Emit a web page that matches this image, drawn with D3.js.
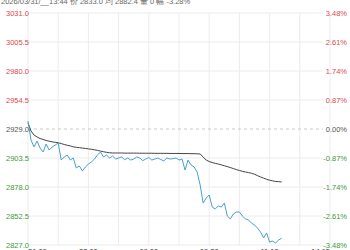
<!DOCTYPE html>
<html>
<head>
<meta charset="utf-8">
<script src="https://cdn.jsdelivr.net/npm/d3@7"></script>
<style>
  body { margin: 0; background: #fff; }
  svg { display: block; font-family: "Liberation Sans", Arial, sans-serif; }
</style>
</head>
<body>
<svg width="350" height="250"></svg>
<script>
// header line (cut off at top in the original)
var headerText = "2026/03/31/__13:44  价 2833.0  均 2882.4  量 0  幅 -3.28%";

// price axis
var baseValue = 2929.0;
var priceTicks = [3031.0, 3005.5, 2980.0, 2954.5, 2929.0, 2903.5, 2878.0, 2852.5, 2827.0];
var pctTicks = ["3.48%", "2.61%", "1.74%", "0.87%", "0.00%", "-0.87%", "-1.74%", "-2.61%", "-3.48%"];

// time axis (minutes from open), one label every 60
var timeLabels = ["21:00", "23:00", "09:00", "09:30", "11:15", "14:15"];
var totalMinutes = 300;
var stepMinutes = 3;

// last price, one point every 3 minutes
var price = [
  2936.0, 2919.3, 2913.2, 2918.4, 2912.3, 2908.8, 2915.8, 2910.5, 2913.2, 2914.9,
  2916.7, 2901.7, 2904.4, 2906.1, 2901.7, 2903.5, 2894.7, 2896.5, 2892.1, 2895.6,
  2898.2, 2900.0, 2902.6, 2906.1, 2908.8, 2904.4, 2906.1, 2903.5, 2905.2, 2902.6,
  2903.5, 2904.4, 2902.0, 2903.5, 2901.7, 2902.6, 2904.4, 2903.5, 2901.2, 2902.6,
  2903.9, 2901.7, 2902.6, 2903.5, 2902.1, 2901.0, 2903.5, 2902.6, 2902.9, 2903.5,
  2901.7, 2902.6, 2892.9, 2901.7, 2897.3, 2895.6, 2891.2, 2879.8, 2863.9, 2868.3,
  2871.0, 2860.4, 2858.7, 2861.3, 2860.4, 2863.9, 2852.5, 2849.9, 2854.3, 2856.0,
  2856.0, 2852.5, 2849.9, 2849.0, 2846.3, 2844.6, 2841.9, 2838.4, 2833.2, 2837.6,
  2829.6, 2830.5, 2828.8, 2831.4, 2833.0
];

// average price
var avgPrice = [
  2934.3, 2927.2, 2923.7, 2922.0, 2920.6, 2919.8, 2918.9, 2918.3, 2917.7, 2917.3,
  2916.9, 2916.2, 2915.4, 2914.7, 2914.1, 2913.3, 2912.9, 2912.6, 2912.2, 2911.9,
  2911.5, 2911.2, 2910.7, 2910.2, 2909.6, 2909.0, 2908.5, 2908.1, 2907.9, 2907.9,
  2907.9, 2907.9, 2907.8, 2907.8, 2907.8, 2907.8, 2907.8, 2907.7, 2907.7, 2907.7,
  2907.7, 2907.7, 2907.6, 2907.6, 2907.6, 2907.6, 2907.6, 2907.5, 2907.5, 2907.5,
  2907.5, 2907.4, 2907.4, 2907.4, 2907.3, 2907.3, 2907.2, 2907.0, 2904.4, 2901.7,
  2900.4, 2899.5, 2898.8, 2898.2, 2897.5, 2896.7, 2895.9, 2895.1, 2894.2, 2893.3,
  2892.5, 2891.8, 2891.2, 2890.7, 2890.1, 2889.2, 2888.0, 2886.8, 2885.8, 2884.8,
  2884.0, 2883.4, 2882.9, 2882.7, 2882.4
];

var svg = d3.select("svg");
var plotLeft = 28, plotRight = 330, plotTop = 13, plotBottom = 245;

var x = d3.scaleLinear().domain([0, totalMinutes]).range([plotLeft, plotRight]);
var y = d3.scaleLinear().domain([2827.0, 3031.0]).range([plotBottom, plotTop]);

var upColor = "#e0474c", downColor = "#3a9a3a", flatColor = "#555";
function tickColor(v) {
  if (v > baseValue) return upColor;
  if (v < baseValue) return downColor;
  return flatColor;
}

// vertical grid
var vTicks = d3.range(0, totalMinutes + 1, 30);
svg.append("g")
  .selectAll("line")
  .data(vTicks)
  .enter()
  .append("line")
  .attr("x1", function(d) { return x(d); })
  .attr("x2", function(d) { return x(d); })
  .attr("y1", plotTop)
  .attr("y2", plotBottom)
  .attr("stroke", "#ececec")
  .attr("stroke-width", 1);

// horizontal grid
svg.append("g")
  .selectAll("line")
  .data(priceTicks)
  .enter()
  .append("line")
  .attr("x1", plotLeft)
  .attr("x2", 323)
  .attr("y1", function(d) { return y(d); })
  .attr("y2", function(d) { return y(d); })
  .attr("stroke", function(d) { return d === baseValue ? "#c8c8c8" : "#ececec"; })
  .attr("stroke-dasharray", function(d) { return d === baseValue ? "3,3" : null; })
  .attr("stroke-width", 1);

// left labels
svg.append("g")
  .selectAll("text")
  .data(priceTicks)
  .enter()
  .append("text")
  .attr("x", 6)
  .attr("y", function(d) { return y(d); })
  .attr("dy", "0.35em")
  .attr("font-size", "7.5px")
  .attr("fill", function(d) { return tickColor(d); })
  .text(function(d) { return d.toFixed(1); });

// right labels
svg.append("g")
  .selectAll("text")
  .data(priceTicks)
  .enter()
  .append("text")
  .attr("x", 347)
  .attr("y", function(d) { return y(d); })
  .attr("dy", "0.35em")
  .attr("text-anchor", "end")
  .attr("font-size", "7.5px")
  .attr("fill", function(d) { return tickColor(d); })
  .text(function(d, i) { return pctTicks[i]; });

// time labels
svg.append("g")
  .selectAll("text")
  .data(timeLabels)
  .enter()
  .append("text")
  .attr("x", function(d, i) { return x(i * 60); })
  .attr("y", 254)
  .attr("text-anchor", function(d, i) {
    if (i === 0) return "start";
    if (i === timeLabels.length - 1) return "end";
    return "middle";
  })
  .attr("font-size", "7.5px")
  .attr("fill", "#333")
  .text(function(d) { return d; });

// lines
var line = d3.line()
  .x(function(d, i) { return x(i * stepMinutes); })
  .y(function(d) { return y(d); });

svg.append("path")
  .datum(avgPrice)
  .attr("d", line)
  .attr("fill", "none")
  .attr("stroke", "#444")
  .attr("stroke-width", 1);

svg.append("path")
  .datum(price)
  .attr("d", line)
  .attr("fill", "none")
  .attr("stroke", "#4a9fd0")
  .attr("stroke-width", 1);

// header
svg.append("text")
  .attr("x", 1)
  .attr("y", 4)
  .attr("font-size", "7.5px")
  .attr("fill", "#666")
  .text(headerText);
</script>
</body>
</html>
